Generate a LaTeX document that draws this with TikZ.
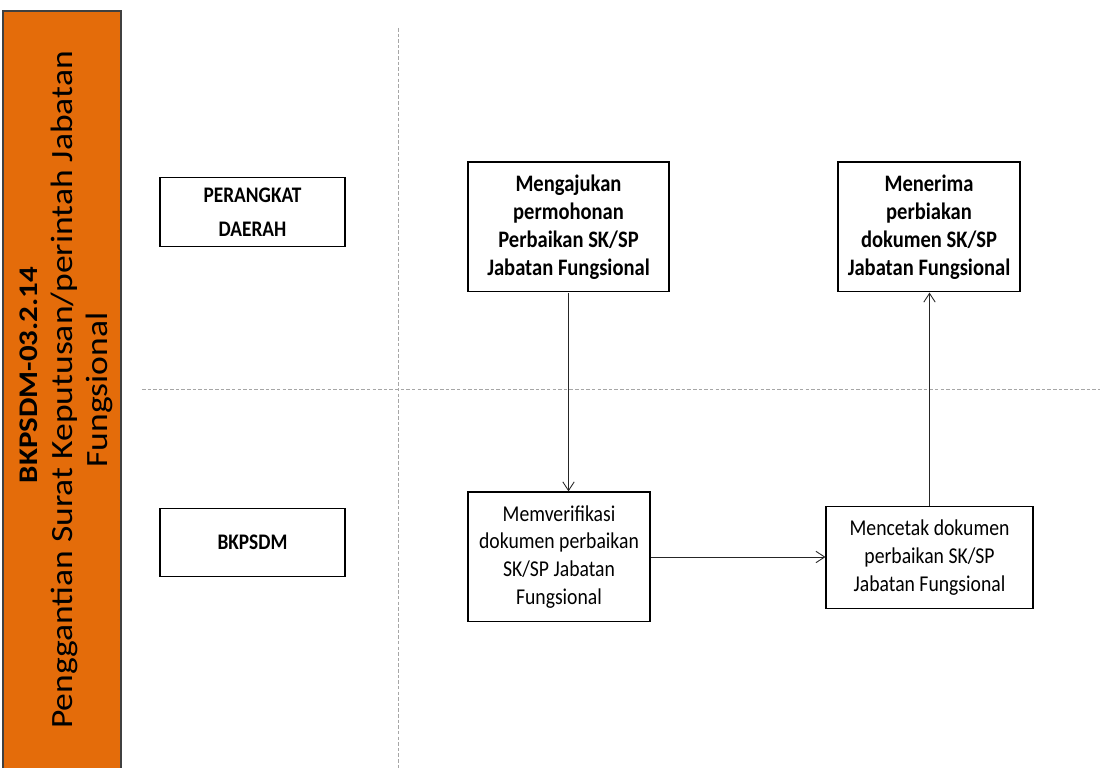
\documentclass[tikz,border=0pt]{standalone}
\usepackage{fontspec}
\setmainfont{Carlito}
\usetikzlibrary{arrows.meta}

\definecolor{sopOrange}{HTML}{E46C0A}

\begin{document}
\begin{tikzpicture}[
  sopbar/.style = {draw=black!75, fill=sopOrange, line width=0.6pt},
  soplane/.style = {gray!70, dash pattern=on 2pt off 1.2pt, line width=0.5pt},
  soplbl/.style = {draw=black, line width=0.6pt, yscale=1.15, minimum width=3.7cm,
    minimum height=1.19cm, align=center, font=\fontsize{11}{17}\selectfont\bfseries},
  sopact/.style = {draw=black, line width=0.6pt, yscale=1.15, align=center, inner sep=0pt},
  sopbold/.style = {font=\fontsize{11.7}{13.8}\selectfont\bfseries},
  soptext/.style = {font=\fontsize{11.2}{13.8}\selectfont},
  sopflow/.style = {-{Straight Barb[length=5pt,width=6.5pt]}, black!85, line width=0.5pt}
]
  \useasboundingbox (0,0) rectangle (22,15.36);
  % kolom judul
  \draw[sopbar] (0.06,-0.2) rectangle (2.42,15.14);
  \node[rotate=90, xscale=1.15, align=center, font=\fontsize{17.6}{20}\selectfont]
    (judul) at (1.32,7.56)
    {\hspace*{14.8pt}{\fontsize{15.3}{20}\selectfont\bfseries BKPSDM-03.2.14}\\
     Penggantian Surat Keputusan/perintah Jabatan\\Fungsional};
  % garis lajur
  \draw[soplane] (7.96,14.8) -- (7.96,0);
  \draw[soplane] (2.84,7.58) -- (22,7.58);
  % pelaksana
  \node[soplbl] (pd) at (5.05,11.12) {PERANGKAT\\DAERAH};
  \node[soplbl] (bk) at (5.05,4.51) {BKPSDM};
  % kegiatan
  \node[sopact, sopbold, minimum width=4.02cm, minimum height=2.26cm]
    (ajukan) at (11.37,10.82)
    {Mengajukan\\permohonan\\Perbaikan SK/SP\\Jabatan Fungsional};
  \node[sopact, sopbold, minimum width=3.64cm, minimum height=2.26cm]
    (terima) at (18.58,10.82)
    {Menerima\\perbiakan\\dokumen SK/SP\\Jabatan Fungsional};
  \node[sopact, soptext, minimum width=3.64cm, minimum height=2.26cm]
    (verif) at (11.18,4.22)
    {Memverifikasi\\dokumen perbaikan\\SK/SP Jabatan\\Fungsional};
  \node[sopact, soptext, minimum width=4.14cm, minimum height=1.76cm]
    (cetak) at (18.59,4.21)
    {Mencetak dokumen\\perbaikan SK/SP\\Jabatan Fungsional};
  % alur
  \draw[sopflow] (ajukan.south) -- (ajukan.south |- verif.north);
  \draw[sopflow] (verif.east) -- (verif.east -| cetak.west);
  \draw[sopflow] (cetak.north) -- (cetak.north |- terima.south);
\end{tikzpicture}
\end{document}
